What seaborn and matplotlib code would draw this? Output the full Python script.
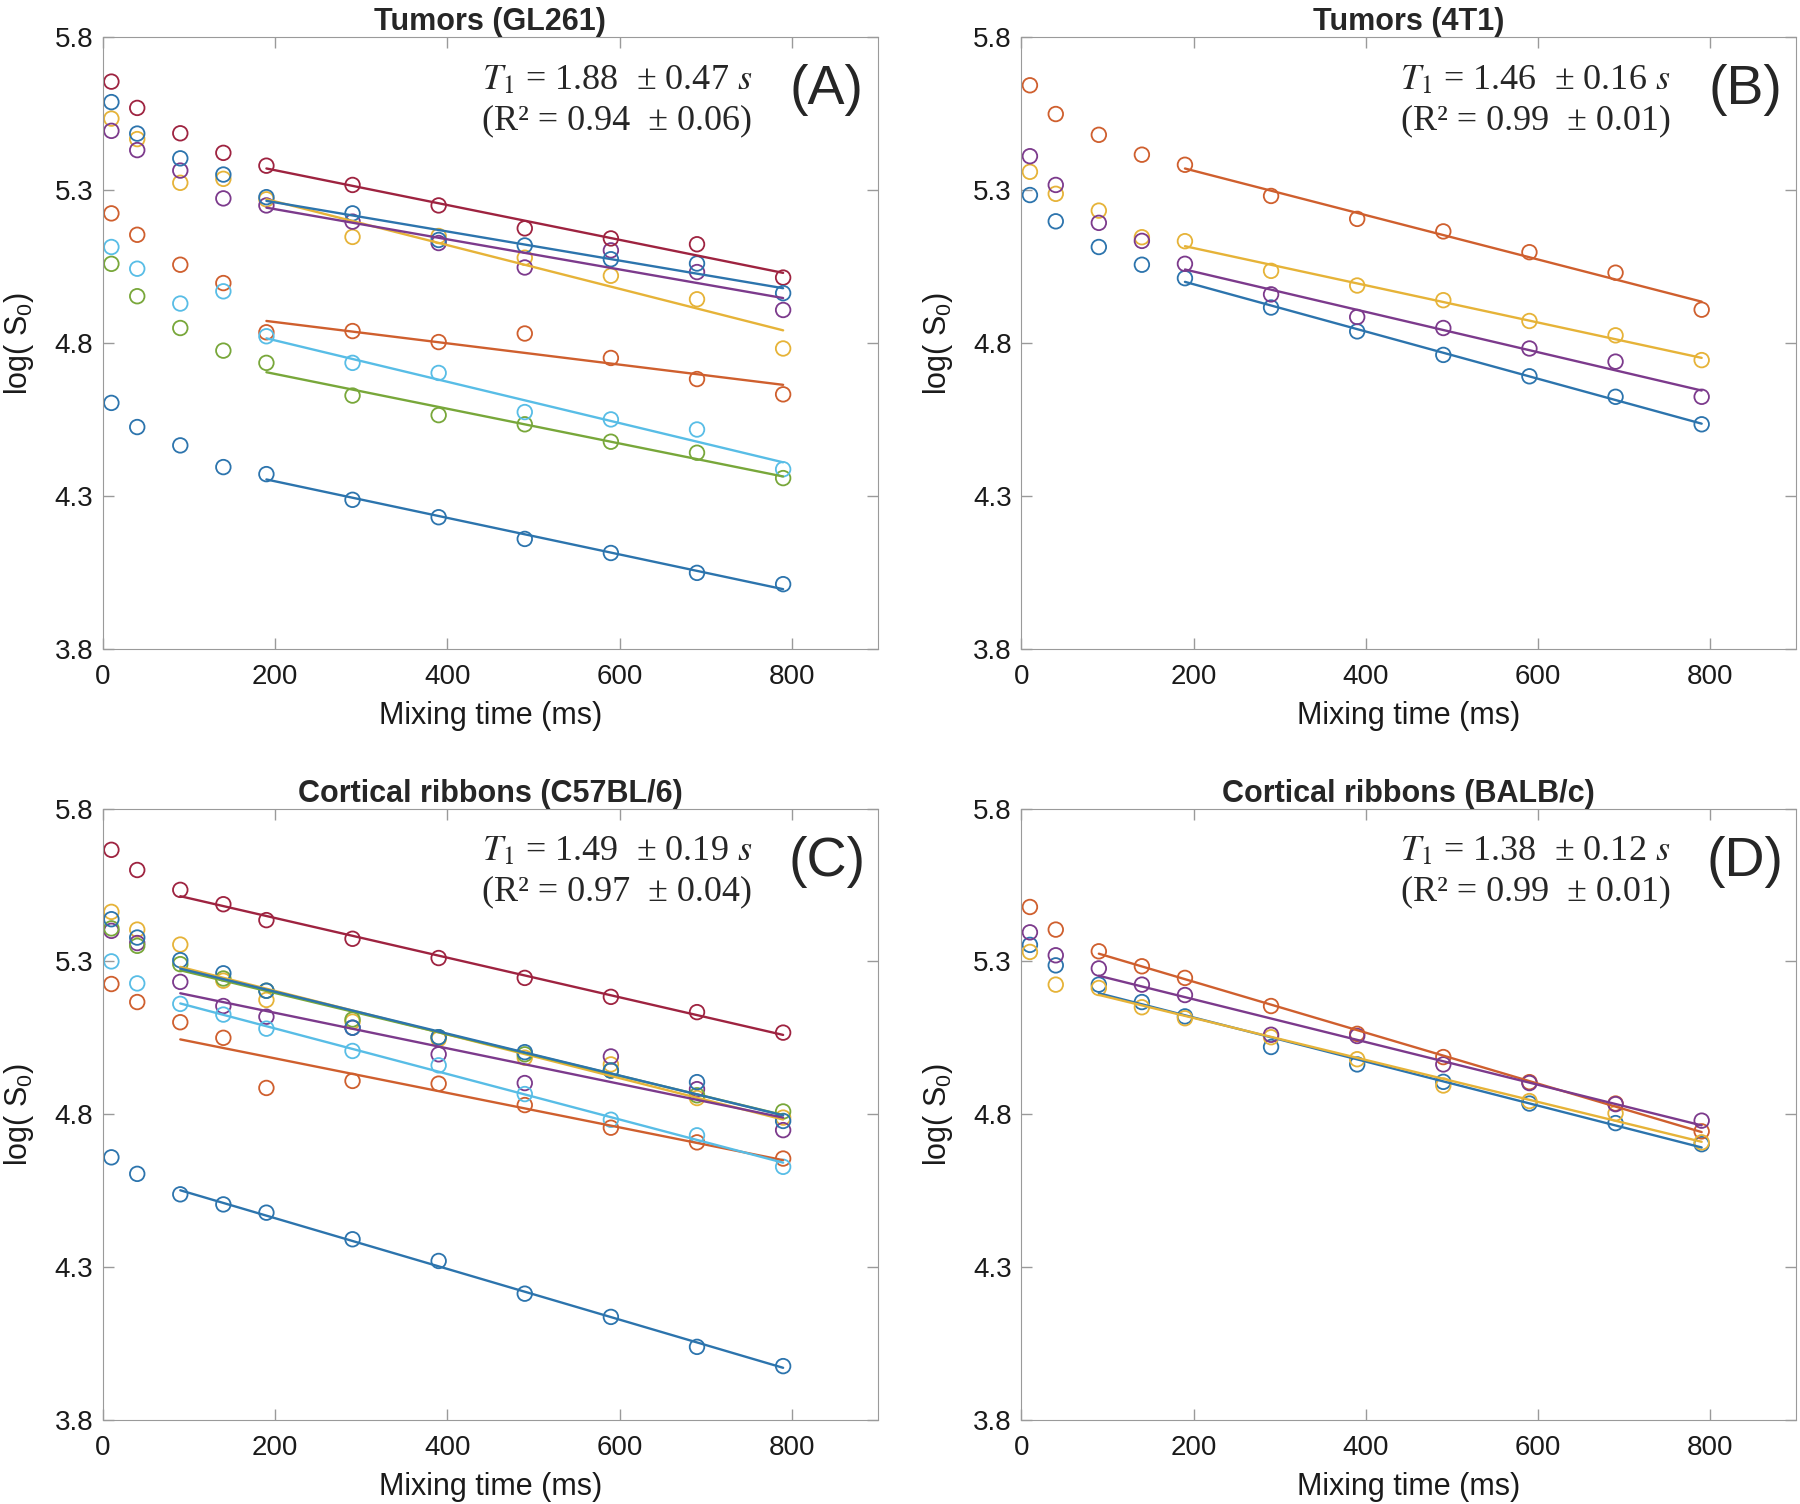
import numpy as np
import pandas as pd
import matplotlib
matplotlib.use('Agg')
import matplotlib.pyplot as plt
import seaborn as sns

# mixing times (ms)
mix = [10, 40, 90, 140, 190, 290, 390, 490, 590, 690, 790]

# MATLAB-like colour order (slightly muted like the scan)
matlab = ['#2c74ad', '#cf5f2e', '#e6b338', '#7c3a8c', '#78a73a', '#58bde6', '#9e2340']

# (A) Tumors (GL261) - fit from 190 ms
gl261 = [
    [4.604, 4.525, 4.465, 4.394, 4.371, 4.287, 4.230, 4.159, 4.113, 4.048, 4.011],  # blue
    [5.224, 5.154, 5.056, 4.996, 4.835, 4.839, 4.803, 4.831, 4.751, 4.682, 4.632],  # orange
    [5.534, 5.467, 5.324, 5.337, 5.270, 5.147, 5.150, 5.079, 5.020, 4.943, 4.782],  # yellow
    [5.494, 5.431, 5.364, 5.273, 5.250, 5.197, 5.127, 5.047, 5.103, 5.032, 4.908],  # purple
    [5.059, 4.953, 4.849, 4.775, 4.735, 4.628, 4.564, 4.534, 4.477, 4.441, 4.358],  # green
    [5.114, 5.043, 4.929, 4.969, 4.822, 4.735, 4.702, 4.574, 4.550, 4.517, 4.387],  # light blue
    [5.655, 5.569, 5.486, 5.422, 5.380, 5.317, 5.250, 5.175, 5.142, 5.123, 5.014],  # dark red
    [5.588, 5.485, 5.404, 5.351, 5.277, 5.224, 5.137, 5.119, 5.074, 5.060, 4.963],  # blue
]

# (B) Tumors (4T1) - fit from 190 ms
t4t1 = [
    [5.284, 5.198, 5.114, 5.056, 5.012, 4.916, 4.838, 4.761, 4.691, 4.624, 4.534],
    [5.643, 5.549, 5.481, 5.416, 5.383, 5.281, 5.206, 5.165, 5.097, 5.030, 4.909],
    [5.360, 5.288, 5.233, 5.146, 5.133, 5.036, 4.988, 4.940, 4.872, 4.825, 4.744],
    [5.411, 5.317, 5.193, 5.134, 5.059, 4.959, 4.885, 4.849, 4.782, 4.739, 4.624],
]

# (C) Cortical ribbons (C57BL/6) - fit from 90 ms
c57 = [
    [4.659, 4.605, 4.538, 4.505, 4.478, 4.391, 4.320, 4.213, 4.137, 4.039, 3.976],
    [5.226, 5.167, 5.101, 5.050, 4.886, 4.909, 4.900, 4.830, 4.756, 4.708, 4.655],
    [5.462, 5.404, 5.355, 5.237, 5.174, 5.103, 5.046, 4.985, 4.963, 4.853, 4.789],
    [5.400, 5.360, 5.233, 5.154, 5.119, 5.083, 4.996, 4.902, 4.989, 4.882, 4.748],
    [5.408, 5.351, 5.291, 5.244, 5.204, 5.110, 5.052, 4.996, 4.943, 4.862, 4.809],
    [5.300, 5.228, 5.161, 5.126, 5.080, 5.007, 4.960, 4.866, 4.782, 4.731, 4.628],
    [5.665, 5.599, 5.534, 5.487, 5.435, 5.374, 5.311, 5.246, 5.184, 5.134, 5.067],
    [5.438, 5.378, 5.304, 5.261, 5.204, 5.083, 5.052, 5.003, 4.943, 4.905, 4.778],
]

# (D) Cortical ribbons (BALB/c) - fit from 90 ms
balbc = [
    [5.354, 5.287, 5.224, 5.167, 5.120, 5.020, 4.963, 4.906, 4.835, 4.771, 4.702],
    [5.478, 5.404, 5.333, 5.284, 5.246, 5.154, 5.063, 4.987, 4.905, 4.835, 4.744],
    [5.331, 5.224, 5.213, 5.150, 5.114, 5.052, 4.980, 4.894, 4.843, 4.803, 4.708],
    [5.395, 5.320, 5.277, 5.224, 5.190, 5.060, 5.056, 4.963, 4.902, 4.833, 4.779],
]

titles = ['Tumors (GL261)', 'Tumors (4T1)', 'Cortical ribbons (C57BL/6)', 'Cortical ribbons (BALB/c)']
labels = ['(A)', '(B)', '(C)', '(D)']
t1_txt = ['1.88  \u00b1 0.47', '1.46  \u00b1 0.16', '1.49  \u00b1 0.19', '1.38  \u00b1 0.12']
r2_txt = ['0.94  \u00b1 0.06', '0.99  \u00b1 0.01', '0.97  \u00b1 0.04', '0.99  \u00b1 0.01']
fit_start = [190, 190, 90, 90]
panels = [gl261, t4t1, c57, balbc]

sns.set_style('ticks', {'xtick.direction': 'in', 'ytick.direction': 'in',
                        'axes.edgecolor': '#9a9a9a', 'axes.linewidth': 1.3})
plt.rcParams['font.family'] = ['Liberation Sans', 'DejaVu Sans']
plt.rcParams['mathtext.fontset'] = 'custom'
plt.rcParams['mathtext.rm'] = 'Liberation Sans'
plt.rcParams['mathtext.it'] = 'Liberation Sans:italic'

fig = plt.figure(figsize=(18, 15.04), dpi=100)
pos = [[0.0571, 0.5687, 0.4306, 0.4065], [0.5674, 0.5687, 0.4306, 0.4065],
       [0.0571, 0.0559, 0.4306, 0.4065], [0.5674, 0.0559, 0.4306, 0.4065]]

for i, series in enumerate(panels):
    ax = fig.add_axes(pos[i])
    for j, y in enumerate(series):
        c = matlab[j % 7]
        df = pd.DataFrame({'t': mix, 'logS': y})
        sns.regplot(data=df, x='t', y='logS', ax=ax, fit_reg=False, color=c,
                    scatter_kws={'facecolors': 'none', 's': 110, 'linewidths': 1.3, 'alpha': 1})
        sub = df[df['t'] >= fit_start[i]]
        sns.regplot(data=sub, x='t', y='logS', ax=ax, scatter=False, ci=None,
                    truncate=True, color=c, line_kws={'linewidth': 1.7})
    ax.set_xlim(0, 900)
    ax.set_ylim(3.8, 5.8)
    ax.set_xticks([0, 200, 400, 600, 800])
    ax.set_yticks([3.8, 4.3, 4.8, 5.3, 5.8])
    ax.set_yticklabels(['3.8', '4.3', '4.8', '5.3', '5.8'])
    ax.tick_params(top=True, right=True, length=8, width=1, color='#9a9a9a',
                   labelsize=20, labelcolor='#1a1a1a')
    ax.tick_params(axis='x', pad=11)
    ax.tick_params(axis='y', pad=7)
    ax.set_xlabel('Mixing time (ms)', fontsize=22, color='#1a1a1a', labelpad=8)
    ax.set_ylabel(r'log( S$_{\mathit{0}}$)', fontsize=22, color='#1a1a1a', labelpad=13)
    ax.set_title(titles[i], fontsize=22, fontweight='bold', pad=5)
    ax.text(0.838, 0.929, r'$T_1$ = ' + t1_txt[i] + r' $s$', transform=ax.transAxes,
            ha='right', va='center', fontsize=26, family='Liberation Serif',
            math_fontfamily='stix')
    ax.text(0.838, 0.864, '(R\u00b2 = ' + r2_txt[i] + ')', transform=ax.transAxes,
            ha='right', va='center', fontsize=26, family='Liberation Serif')
    ax.text(0.934, 0.913, labels[i], transform=ax.transAxes, ha='center', va='center',
            fontsize=40)

fig.savefig('out.png', dpi=100)
